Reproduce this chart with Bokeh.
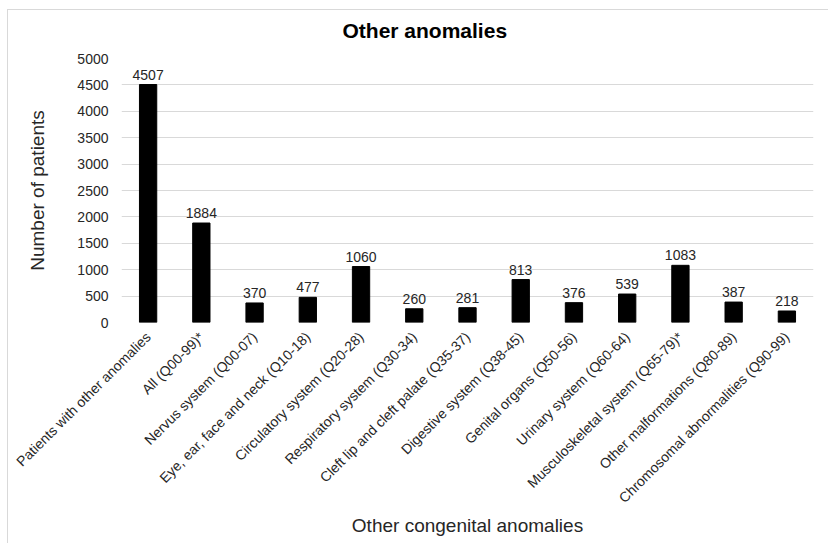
import math

from bokeh.plotting import figure
from bokeh.models import FactorRange, Range1d, FixedTicker, ColumnDataSource, Title
from bokeh.core.properties import value
from bokeh.embed import file_html
from bokeh.resources import INLINE

# Anomaly groups and patient counts
categories = [
    "Patients with other anomalies",
    "All (Q00-99)*",
    "Nervus system (Q00-07)",
    "Eye, ear, face and neck (Q10-18)",
    "Circulatory system (Q20-28)",
    "Respiratory system (Q30-34)",
    "Cleft lip and cleft palate (Q35-37)",
    "Digestive system (Q38-45)",
    "Genital organs (Q50-56)",
    "Urinary system (Q60-64)",
    "Musculoskeletal system (Q65-79)*",
    "Other malformations (Q80-89)",
    "Chromosomal abnormalities (Q90-99)",
]
patients = [4507, 1884, 370, 477, 1060, 260, 281, 813, 376, 539, 1083, 387, 218]
y_ticks = [0, 500, 1000, 1500, 2000, 2500, 3000, 3500, 4000, 4500, 5000]

FONT = "Liberation Sans"
TEXT = "#262626"

source = ColumnDataSource(dict(
    cat=categories,
    n=patients,
    label=[str(v) for v in patients],
))

# The chart sits inside a thin light border that starts at (7, 9)
p = figure(
    width=821, height=534,
    x_range=FactorRange(*categories),
    y_range=Range1d(0, 5000),
    output_backend="svg", toolbar_location=None,
    min_border_left=113, min_border_right=16,
    min_border_top=48, min_border_bottom=222,
)
p.styles = {
    "margin-left": "7px",
    "margin-top": "9px",
    "border-left": "1px solid #d9d9d9",
    "border-top": "1px solid #d9d9d9",
}
p.x_range.range_padding = 0
p.x_range.factor_padding = 0

p.vbar(x="cat", top="n", width=0.325, source=source,
       fill_color="black", line_color="black")

p.text(x="cat", y="n", text="label", source=source,
       text_align="center", text_baseline="alphabetic", y_offset=-10,
       text_font_size="14px", text_color=TEXT, text_font=value(FONT))

# Blank strip between the title and the plot area
p.add_layout(Title(text=" ", text_font_size="1px", standoff=14), "above")

# Title
p.title.text = "Other anomalies"
p.title.text_font = FONT
p.title.text_font_size = "21px"
p.title.text_font_style = "bold"
p.title.text_color = "black"
p.title.align = "left"
p.title.offset = 221
p.title.standoff = 0

# Axes
p.yaxis.ticker = FixedTicker(ticks=y_ticks)
for ax in (p.xaxis[0], p.yaxis[0]):
    ax.axis_line_color = None
    ax.major_tick_line_color = None
    ax.minor_tick_line_color = None
    ax.major_label_text_font = FONT
    ax.major_label_text_font_size = "14px"
    ax.major_label_text_color = TEXT
    ax.axis_label_text_font = FONT
    ax.axis_label_text_font_size = "19px"
    ax.axis_label_text_font_style = "normal"
    ax.axis_label_text_color = TEXT

p.yaxis.axis_label = "Number of patients"
p.yaxis.major_label_standoff = 7
p.yaxis.axis_label_standoff = 26

p.xaxis.axis_label = "Other congenital anomalies"
p.xaxis.major_label_orientation = math.pi / 4
p.xaxis.major_label_standoff = 6
p.xaxis.axis_label_standoff = 1

# Grid
p.xgrid.grid_line_color = None
p.ygrid.grid_line_color = "#d9d9d9"
p.ygrid.grid_line_width = 1
p.outline_line_color = None

open("out.html", "w").write(file_html(p, INLINE))
